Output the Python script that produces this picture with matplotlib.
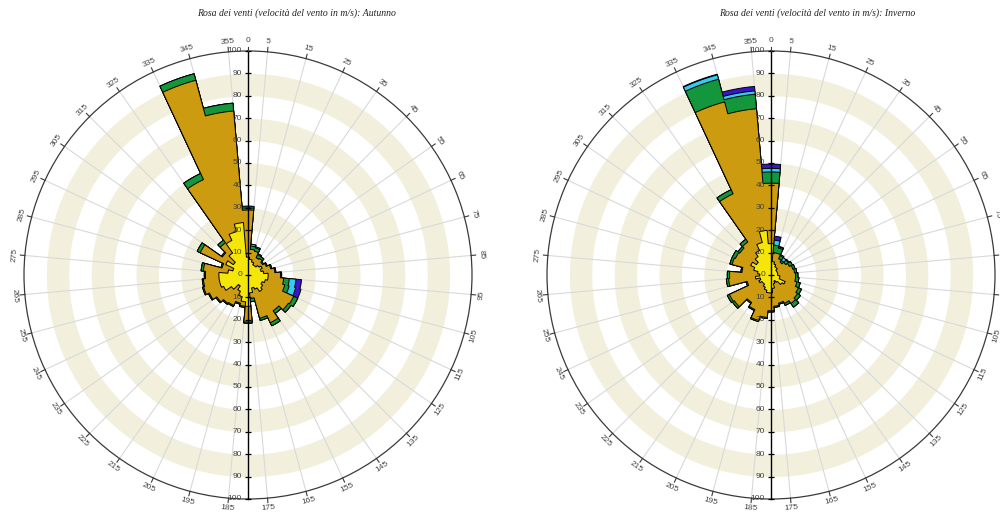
import numpy as np
import matplotlib
matplotlib.use("Agg")
import matplotlib.pyplot as plt
from matplotlib import transforms

# Wind directions (sector centres, degrees from north, clockwise)
directions = np.arange(0, 360, 10)

# Autumn: cumulative frequency (%) reached by each wind-speed class
aut_yellow = [8, 7, 6, 5, 5, 6, 7, 6, 7, 9, 9, 8, 7, 8, 9, 7, 6, 8,
              14, 12, 10, 8, 6, 9, 12, 13, 13, 13, 9, 7, 11, 8, 12, 17, 20, 23.5]
aut_ochre = [29, 11.5, 11, 8.5, 9, 8, 9, 10.5, 12, 14.5, 16, 17, 22.5, 22, 19.5, 23.5, 20, 10.5,
             21, 14, 13, 15, 15.5, 17, 19, 20.5, 20, 19, 20, 12, 23.5, 14, 17.5, 47, 90, 73.5]
aut_green = [30, 13, 12.5, 10, 10, 8.5, 9.5, 11, 12.5, 15, 18.5, 19, 24.5, 23.5, 21, 25, 21, 12,
             21.5, 14.5, 13.5, 15.5, 16, 17.5, 19.5, 21, 20.5, 19.5, 21, 12.5, 25, 14.5, 19, 50, 93, 77]
aut_cyan = [30.7, 13.8, 13, 10.5, 10, 8.5, 9.5, 11, 12.5, 15, 21.5, 22, 24.5, 23.5, 21, 25, 21, 12,
            21.5, 14.5, 13.5, 15.5, 16, 17.5, 19.5, 21, 20.5, 19.5, 21, 12.5, 25, 14.5, 19, 50, 93, 77]
aut_blue = [30.7, 13.8, 13, 10.5, 10, 8.5, 9.5, 11, 12.5, 15, 24, 24.5, 24.5, 23.5, 21, 25, 21, 12,
            21.5, 14.5, 13.5, 15.5, 16, 17.5, 19.5, 21, 20.5, 19.5, 21, 12.5, 25, 14.5, 19, 50, 93, 77]

# Winter: cumulative frequency (%) reached by each wind-speed class
win_yellow = [14, 6, 5, 4, 4, 3, 3, 3, 3, 3, 4, 4, 7, 6, 4, 3, 4, 6,
              8, 8, 7, 6, 5, 5, 6, 5, 7, 5, 6, 8, 10, 8, 10, 12, 15, 20]
win_ochre = [41, 10, 10, 8, 7, 8, 9, 10, 10.5, 11, 11, 12, 13.5, 14.5, 15.5, 14, 13, 14,
             16, 19, 21, 17, 15, 20, 20.5, 11, 19, 18.5, 13, 18, 17.5, 17, 18, 40, 80, 74.5]
win_green = [46, 13.4, 12.5, 9.5, 8, 9.5, 10.5, 11, 11.5, 12, 12.5, 13.5, 15, 16, 17.5, 15, 13.5, 14.5,
             16.5, 19.5, 21.5, 17.5, 15.5, 21, 21.5, 11.5, 20, 19.5, 13.5, 19, 19, 18, 19.5, 42, 90.5, 81]
win_cyan = [47.6, 15.6, 13, 10, 9.5, 9.8, 10.5, 11, 11.5, 12, 12.5, 13.5, 15, 16, 17.5, 15, 13.5, 14.5,
            16.5, 19.5, 21.5, 17.5, 15.5, 21, 21.5, 11.5, 20, 19.5, 13.5, 19, 19, 18, 19.5, 42, 92.5, 82.5]
win_blue = [49.5, 17.4, 13.3, 10, 9.5, 9.8, 10.5, 11, 11.5, 12, 12.5, 13.5, 15, 16, 17.5, 15, 13.5, 14.5,
            16.5, 19.5, 21.5, 17.5, 15.5, 21, 21.5, 11.5, 20, 19.5, 13.5, 19, 19, 18, 19.5, 42, 92.8, 84.5]

class_colors = ["#f5e60a", "#cd9b10", "#14963c", "#33ccee", "#3a14c8"]
band_color = "#f2f0dc"
grid_color = "#d9d9d9"
label_color = "#444444"

angle_labels = [0] + list(range(5, 360, 10))
radial_values = list(range(0, 101, 10))


def stepped(radii, width=10.0, n=9):
    th, rr = [], []
    for d, r in zip(directions, radii):
        t = np.radians(np.linspace(d - width / 2, d + width / 2, n))
        th.extend(t)
        rr.extend([r] * n)
    th.append(th[0])
    rr.append(rr[0])
    return np.array(th), np.array(rr)


def draw_rose(ax, layers, fig):
    ax.set_theta_zero_location("N")
    ax.set_theta_direction(-1)
    ax.set_ylim(0, 100)
    ax.set_xticks([])
    ax.set_yticks([])
    ax.grid(False)
    ax.spines["polar"].set_color("#3a3a3a")
    ax.spines["polar"].set_linewidth(0.9)

    # alternating rings
    ring = np.linspace(0, 2 * np.pi, 361)
    for b in (0, 20, 40, 60, 80):
        ax.fill_between(ring, b, b + 10, color=band_color, lw=0, zorder=0.5)

    # radial grid lines on the sector edges
    for a in range(5, 360, 10):
        ax.plot([np.radians(a)] * 2, [0, 100], color=grid_color, lw=0.8, zorder=0.8)

    # stacked speed classes, outermost first
    for z, (radii, col) in enumerate(zip(layers[::-1], class_colors[::-1])):
        th, rr = stepped(radii)
        ax.fill(th, rr, facecolor=col, edgecolor="black", linewidth=0.7, zorder=2 + z)

    # vertical radial axis with ticks
    ax.plot([0, 0], [0, 100], color="black", lw=1.0, zorder=10, clip_on=False)
    ax.plot([np.pi, np.pi], [0, 100], color="black", lw=1.0, zorder=10, clip_on=False)
    ax.plot([0] * 11, radial_values, ls="none", marker="_", ms=5, mew=0.9,
            color="black", zorder=10, clip_on=False)
    ax.plot([np.pi] * 10, radial_values[1:], ls="none", marker="_", ms=5, mew=0.9,
            color="black", zorder=10, clip_on=False)

    off = transforms.offset_copy(ax.transData, fig=fig, x=-6, y=0, units="dots")
    for v in radial_values:
        ax.text(0, v, str(v), transform=off, ha="right", va="center",
                fontsize=6, color=label_color, family="Liberation Sans", zorder=11)
    for v in radial_values[1:]:
        ax.text(np.pi, v, str(v), transform=off, ha="right", va="center",
                fontsize=6, color=label_color, family="Liberation Sans", zorder=11)

    # compass labels and ticks around the rim
    for a in angle_labels:
        t = np.radians(a)
        ax.plot([t, t], [100, 102], color="#3a3a3a", lw=0.8, clip_on=False, zorder=10)
        rot = -a + 180 if 90 < a < 270 else -a
        ax.text(t, 104.5, str(a), rotation=rot, rotation_mode="anchor",
                ha="center", va="center", fontsize=6, color=label_color,
                family="Liberation Sans", clip_on=False)


fig = plt.figure(figsize=(10, 5.13), dpi=100)

ax1 = fig.add_axes([0.024, 0.0273, 0.448, 0.8733], projection="polar")
draw_rose(ax1, [aut_yellow, aut_ochre, aut_green, aut_cyan, aut_blue], fig)

ax2 = fig.add_axes([0.547, 0.0273, 0.448, 0.8733], projection="polar")
draw_rose(ax2, [win_yellow, win_ochre, win_green, win_cyan, win_blue], fig)

title_kw = dict(family="Liberation Serif", style="italic", fontsize=7,
                ha="center", va="center", color="#222222")
fig.text(0.296, 0.975, "Rosa dei venti (velocità del vento in m/s): Autunno", **title_kw)
fig.text(0.817, 0.975, "Rosa dei venti (velocità del vento in m/s): Inverno", **title_kw)

fig.savefig("out.png", dpi=100)
